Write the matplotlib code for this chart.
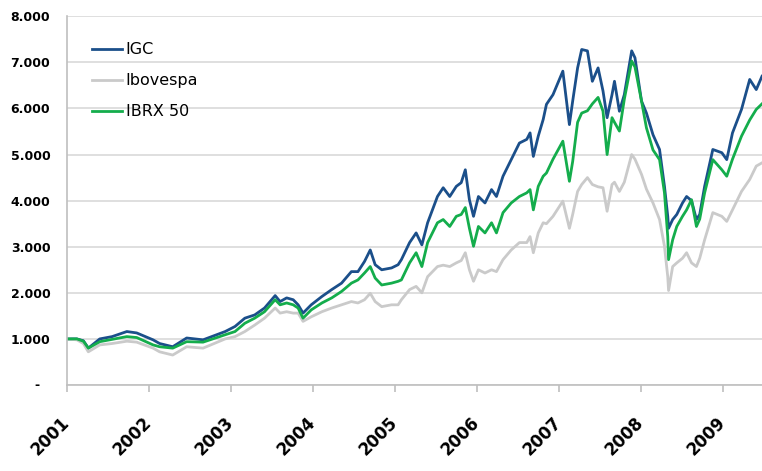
import matplotlib
matplotlib.use("Agg")
import matplotlib.pyplot as plt
import matplotlib.transforms as mtransforms

# decimal-year sample positions
years = [2001.00, 2001.12, 2001.20, 2001.26, 2001.40, 2001.55, 2001.73, 2001.85,
         2002.05, 2002.13, 2002.29, 2002.46, 2002.66, 2002.93, 2003.05, 2003.17,
         2003.29, 2003.41, 2003.54, 2003.60, 2003.68, 2003.76, 2003.82, 2003.88,
         2003.98, 2004.11, 2004.23, 2004.35, 2004.47, 2004.55, 2004.63, 2004.70,
         2004.76, 2004.84, 2004.96, 2005.04, 2005.08, 2005.18, 2005.26, 2005.33,
         2005.40, 2005.52, 2005.59, 2005.67, 2005.75, 2005.81, 2005.86, 2005.91,
         2005.96, 2006.02, 2006.10, 2006.18, 2006.24, 2006.32, 2006.42, 2006.52,
         2006.61, 2006.65, 2006.69, 2006.75, 2006.81, 2006.85, 2006.93, 2007.05,
         2007.13, 2007.17, 2007.23, 2007.28, 2007.35, 2007.41, 2007.48, 2007.54,
         2007.59, 2007.65, 2007.68, 2007.74, 2007.80, 2007.89, 2007.93, 2008.01,
         2008.07, 2008.15, 2008.23, 2008.29, 2008.33, 2008.34, 2008.39, 2008.44,
         2008.51, 2008.56, 2008.62, 2008.68, 2008.72, 2008.78, 2008.88, 2008.99,
         2009.05, 2009.12, 2009.23, 2009.33, 2009.41, 2009.48]

igc = [1000, 1000, 960, 800, 1000, 1050, 1160, 1130,
       980, 900, 830, 1020, 980, 1160, 1270, 1450,
       1520, 1670, 1940, 1810, 1890, 1850, 1740, 1560,
       1740, 1920, 2070, 2210, 2460, 2460, 2680, 2930,
       2610, 2500, 2540, 2610, 2720, 3090, 3300, 3040,
       3520, 4090, 4280, 4090, 4310, 4390, 4670, 4020,
       3660, 4090, 3950, 4240, 4090, 4530, 4890, 5250,
       5330, 5470, 4960, 5400, 5760, 6090, 6300, 6810,
       5650, 6160, 6880, 7280, 7250, 6590, 6880, 6380,
       5800, 6300, 6590, 5940, 6300, 7250, 7100, 6160,
       5900, 5430, 5110, 4310, 3660, 3400, 3590, 3700,
       3950, 4090, 4000, 3590, 3700, 4310, 5110, 5040,
       4890, 5470, 5980, 6630, 6410, 6700]

ibovespa = [1000, 980, 900, 720, 870, 900, 950, 930,
            800, 720, 650, 830, 800, 1000, 1050, 1160,
            1300, 1450, 1670, 1560, 1590, 1560, 1560, 1380,
            1480, 1590, 1670, 1740, 1810, 1780, 1850, 1990,
            1810, 1700, 1740, 1740, 1850, 2070, 2140, 2000,
            2350, 2570, 2600, 2570, 2650, 2700, 2870, 2500,
            2250, 2500, 2430, 2500, 2460, 2720, 2930, 3090,
            3090, 3220, 2870, 3300, 3520, 3500, 3660, 3990,
            3400, 3700, 4200, 4350, 4500, 4350, 4300, 4280,
            3770, 4350, 4400, 4200, 4400, 5000, 4900, 4570,
            4250, 3950, 3590, 3010, 2350, 2050, 2570, 2650,
            2750, 2870, 2650, 2570, 2750, 3150, 3740, 3660,
            3550, 3800, 4200, 4460, 4750, 4820]

ibrx50 = [1000, 1000, 950, 800, 940, 990, 1050, 1030,
          870, 830, 800, 940, 930, 1090, 1160, 1340,
          1450, 1590, 1850, 1740, 1780, 1740, 1670, 1450,
          1630, 1780, 1890, 2030, 2210, 2280, 2430, 2570,
          2320, 2170, 2210, 2250, 2280, 2650, 2870, 2570,
          3090, 3520, 3590, 3440, 3660, 3700, 3850, 3400,
          3010, 3440, 3300, 3520, 3300, 3740, 3950, 4090,
          4170, 4240, 3800, 4310, 4530, 4600, 4900, 5290,
          4420, 4850, 5700, 5900, 5950, 6100, 6240, 5940,
          5000, 5800, 5700, 5510, 6200, 7030, 6900, 6160,
          5580, 5100, 4890, 4170, 3220, 2720, 3150, 3440,
          3660, 3800, 4020, 3440, 3600, 4170, 4890, 4670,
          4530, 4900, 5400, 5750, 5980, 6100]

series_names = ["IGC", "Ibovespa", "IBRX 50"]
year_ticks = [2001, 2002, 2003, 2004, 2005, 2006, 2007, 2008, 2009]
y_ticks = [0, 1000, 2000, 3000, 4000, 5000, 6000, 7000, 8000]
y_tick_labels = ["", "1.000", "2.000", "3.000", "4.000", "5.000", "6.000", "7.000", "8.000"]

fig = plt.figure(figsize=(7.62, 4.71), dpi=100)
ax = fig.add_axes([67 / 762, 1 - 385 / 471, 695 / 762, (385 - 16.3) / 471])

colors = ["#1B4F8A", "#CACACA", "#14AD4C"]
for vals, name, c in zip([igc, ibovespa, ibrx50], series_names, colors):
    ax.plot(years, vals, color=c, lw=2.0, label=name, solid_joinstyle="round")

ax.set_xlim(2001, 2009.48)
ax.set_ylim(0, 8000)

ax.set_yticks(y_ticks)
ax.set_yticklabels(y_tick_labels, fontsize=9, fontweight="bold")
ax.tick_params(axis="y", length=0, pad=12)
# zero label shown as "-" (accounting style)
trans = mtransforms.blended_transform_factory(ax.transAxes, ax.transData)
ax.text(-0.043, 0, "-", transform=trans, ha="center", va="center",
        fontsize=9, fontweight="bold")

ax.set_xticks(year_ticks)
ax.set_xticklabels([str(y) for y in year_ticks], fontsize=12, fontweight="bold",
                   rotation=45, ha="right", va="center", rotation_mode="anchor")
ax.tick_params(axis="x", length=5, width=1.2, color="#BFBFBF", pad=20)

ax.grid(axis="y", color="#D9D9D9", lw=1.2)
ax.set_axisbelow(True)
for s in ["top", "right"]:
    ax.spines[s].set_visible(False)
for s in ["left", "bottom"]:
    ax.spines[s].set_color("#BFBFBF")
    ax.spines[s].set_linewidth(1.2)

leg = ax.legend(loc="upper left", bbox_to_anchor=((92 - 67) / 695, (385 - 42.5) / 368.7),
                frameon=False, fontsize=11.5, handlelength=1.9, handletextpad=0.2,
                labelspacing=1.0, borderpad=0, borderaxespad=0)

fig.savefig("out.png", dpi=100)
